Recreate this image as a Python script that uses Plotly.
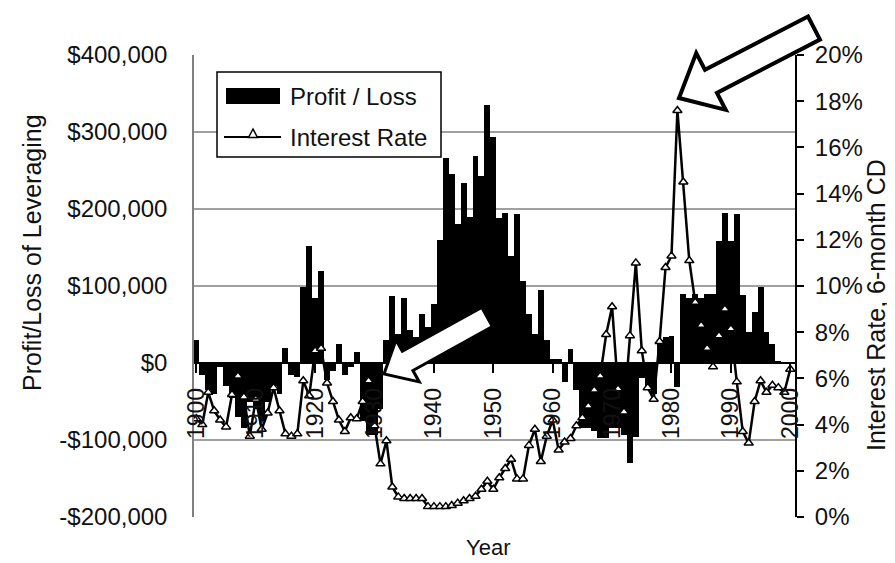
import plotly.graph_objects as go
import math

# ---------------- data ----------------
years = list(range(1900, 2001))

profit_loss = [
    30000, -15000, -35000, -40000, -5000, -30000, -45000, -70000, -85000, -50000,   # 1900-1909
    -60000, -75000, -50000, -30000, -40000, 20000, -15000, -18000, 99000, 152000,   # 1910-1919
    84000, 119000, -22000, -10000, 25000, -15000, -5000, 14000, -75000, -93000,     # 1920-1929
    -93000, -60000, 30000, 87000, 38000, 84000, 43000, 34000, 63000, 47000,         # 1930-1939
    76000, 160000, 266000, 245000, 180000, 234000, 189000, 269000, 243000, 335000,  # 1940-1949
    293000, 188000, 195000, 139000, 194000, 106000, 64000, 38000, 95000, 30000,     # 1950-1959
    5000, 5000, -25000, 18000, -35000, -84000, -84000, -88000, -97000, -98000,      # 1960-1969
    -84000, -84000, -94000, -130000, -96000, -20000, -35000, -40000, 30000, 34000,  # 1970-1979
    35000, -31000, 90000, 84000, 90000, 84000, 89000, 89000, 158000, 195000,        # 1980-1989
    158000, 193000, 88000, 40000, 66000, 99000, 40000, 25000, 2000, 0,              # 1990-1999
    0,                                                                              # 2000
]

interest_rate = [
    4.25, 4.0, 5.4, 4.6, 4.2, 3.9, 5.3, 6.1, 5.2, 3.5,        # 1900-1909
    5.1, 3.8, 4.5, 5.6, 4.6, 3.6, 3.5, 3.6, 5.9, 5.25,        # 1910-1919
    7.2, 7.3, 5.8, 5.0, 4.2, 3.7, 4.3, 4.25, 5.0, 5.9,        # 1920-1929
    3.95, 2.3, 3.3, 1.3, 0.87, 0.8, 0.8, 0.8, 0.8, 0.45,      # 1930-1939
    0.45, 0.45, 0.45, 0.5, 0.6, 0.7, 0.8, 0.9, 1.2, 1.55,     # 1940-1949
    1.2, 1.7, 2.1, 2.5, 1.65, 1.65, 3.1, 3.8, 2.4, 3.5,       # 1950-1959
    4.2, 2.9, 3.25, 3.4, 3.95, 4.3, 4.8, 5.5, 6.1, 7.9,       # 1960-1969
    9.1, 5.55, 4.55, 7.85, 11.0, 7.2, 5.6, 5.1, 7.6, 10.8,    # 1970-1979
    11.3, 17.6, 14.5, 11.1, 9.3, 8.3, 7.3, 6.5, 7.85, 9.0,    # 1980-1989
    8.15, 5.85, 3.7, 3.2, 5.0, 5.9, 5.4, 5.7, 5.6, 5.4,       # 1990-1999
    6.4,                                                      # 2000
]

year_ticks = list(range(1900, 2001, 10))
year_labels = [str(y) for y in year_ticks]

money_ticks = [-200000, -100000, 0, 100000, 200000, 300000, 400000]
money_labels = ["-$200,000", "-$100,000", "$0", "$100,000", "$200,000", "$300,000", "$400,000"]

rate_ticks = list(range(0, 21, 2))
rate_labels = [f"{v}%" for v in rate_ticks]

# ---------------- layout geometry (pixels) ----------------
W, H = 895, 563
L, R, T, B = 186, 787, 47, 509
FONT = "Liberation Sans, Arial, sans-serif"

def px(x):
    return (x - L) / (R - L)

def py(y):
    return (B - y) / (B - T)

def arrow_path(tail, tip, shaft_w, head_w, head_len):
    dx, dy = tip[0] - tail[0], tip[1] - tail[1]
    n = math.hypot(dx, dy)
    ux, uy = dx / n, dy / n
    nx, ny = -uy, ux
    bx, by = tip[0] - ux * head_len, tip[1] - uy * head_len
    pts = [
        (tail[0] + nx * shaft_w / 2, tail[1] + ny * shaft_w / 2),
        (bx + nx * shaft_w / 2, by + ny * shaft_w / 2),
        (bx + nx * head_w / 2, by + ny * head_w / 2),
        tip,
        (bx - nx * head_w / 2, by - ny * head_w / 2),
        (bx - nx * shaft_w / 2, by - ny * shaft_w / 2),
        (tail[0] - nx * shaft_w / 2, tail[1] - ny * shaft_w / 2),
    ]
    return "M " + " L ".join(f"{px(a):.5f},{py(b):.5f}" for a, b in pts) + " Z"

# ---------------- figure ----------------
fig = go.Figure()

fig.add_trace(go.Bar(
    x=years, y=profit_loss, name="Profit / Loss",
    marker=dict(color="black", line=dict(width=0)),
    yaxis="y", xaxis="x",
))

fig.add_trace(go.Scatter(
    x=years, y=interest_rate, name="Interest Rate",
    mode="lines+markers",
    line=dict(color="black", width=2.5),
    marker=dict(symbol="triangle-up", size=8, color="white",
                line=dict(color="black", width=1.5)),
    yaxis="y2", xaxis="x",
))

ymin, ymax = -200000, 400000

fig.update_layout(
    width=W, height=H,
    margin=dict(l=L, r=W - R, t=T, b=H - B, pad=0),
    paper_bgcolor="white", plot_bgcolor="white",
    showlegend=False, bargap=0,
    font=dict(family=FONT, size=24, color="#111111"),
    xaxis=dict(
        range=[1899.6, 2000.8],
        tickmode="array", tickvals=year_ticks, ticktext=year_labels,
        tickangle=-90, ticks="outside", ticklen=9, tickwidth=1.5, tickcolor="black",
        showline=True, linecolor="black", linewidth=1.5,
        anchor="free", position=(0 - ymin) / (ymax - ymin),
        showgrid=False, zeroline=False,
        tickfont=dict(size=23, family=FONT, color="#111111"),
        ticklabelstandoff=6,
    ),
    yaxis=dict(
        range=[ymin, ymax],
        tickmode="array", tickvals=money_ticks, ticktext=money_labels,
        showgrid=True, gridcolor="#a0a0a0", gridwidth=1.5,
        showline=True, linecolor="#808080", linewidth=1.5,
        zeroline=False, ticks="",
        tickfont=dict(size=24, family=FONT, color="#111111"),
        ticklabelstandoff=20,
    ),
    yaxis2=dict(
        range=[0, 20], overlaying="y", side="right",
        tickmode="array", tickvals=rate_ticks, ticktext=rate_labels,
        showgrid=False, zeroline=False,
        showline=True, linecolor="black", linewidth=2,
        ticks="outside", ticklen=7, tickwidth=1.5, tickcolor="black",
        tickfont=dict(size=24, family=FONT, color="#111111"),
        ticklabelstandoff=6,
    ),
)

shapes = []
annotations = []

# legend box
shapes.append(dict(type="rect", xref="paper", yref="paper",
                   x0=px(209), x1=px(433), y0=py(149), y1=py(64),
                   line=dict(color="black", width=1.5), fillcolor="white", layer="above"))
shapes.append(dict(type="rect", xref="paper", yref="paper",
                   x0=px(218), x1=px(272), y0=py(96), y1=py(80),
                   line=dict(color="black", width=0), fillcolor="black", layer="above"))
shapes.append(dict(type="line", xref="paper", yref="paper",
                   x0=px(216), x1=px(273), y0=py(129), y1=py(129),
                   line=dict(color="black", width=2), layer="above"))
tri = [(245, 121), (240.5, 129.5), (249.5, 129.5)]
shapes.append(dict(type="path", xref="paper", yref="paper",
                   path="M " + " L ".join(f"{px(a):.5f},{py(b):.5f}" for a, b in tri) + " Z",
                   line=dict(color="black", width=1.5), fillcolor="white", layer="above"))
annotations.append(dict(text="Profit / Loss", xref="paper", yref="paper",
                        x=px(280), y=py(88), xanchor="left", yanchor="middle",
                        showarrow=False, font=dict(size=24, family=FONT, color="#111111")))
annotations.append(dict(text="Interest Rate", xref="paper", yref="paper",
                        x=px(280), y=py(129), xanchor="left", yanchor="middle",
                        showarrow=False, font=dict(size=24, family=FONT, color="#111111")))

# block arrows
shapes.append(dict(type="path", xref="paper", yref="paper",
                   path=arrow_path((806, 20), (671, 90), 26, 64, 36),
                   line=dict(color="black", width=4), fillcolor="white", layer="above"))
shapes.append(dict(type="path", xref="paper", yref="paper",
                   path=arrow_path((479, 309), (376, 366), 22, 48, 27),
                   line=dict(color="black", width=3), fillcolor="white", layer="above"))

# axis titles
annotations.append(dict(text="Profit/Loss of Leveraging", xref="paper", yref="paper",
                        x=px(24), y=py(245), xanchor="center", yanchor="middle",
                        textangle=-90, showarrow=False,
                        font=dict(size=25, family=FONT, color="#111111")))
annotations.append(dict(text="Interest Rate, 6-month CD", xref="paper", yref="paper",
                        x=px(868), y=py(297), xanchor="center", yanchor="middle",
                        textangle=-90, showarrow=False,
                        font=dict(size=25, family=FONT, color="#111111")))
annotations.append(dict(text="Year", xref="paper", yref="paper",
                        x=px(480), y=py(539), xanchor="center", yanchor="middle",
                        showarrow=False, font=dict(size=22, family=FONT, color="#111111")))

fig.update_layout(shapes=shapes, annotations=annotations)

fig.write_html("out.html")
